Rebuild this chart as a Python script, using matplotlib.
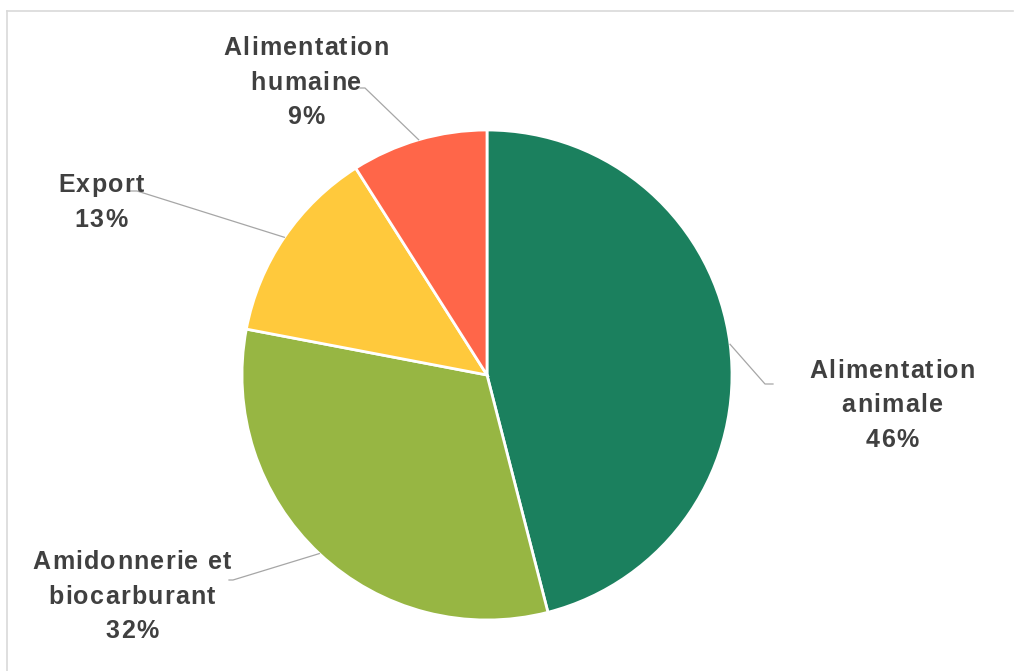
import numpy as np
import matplotlib
matplotlib.use("Agg")
import matplotlib.pyplot as plt
from matplotlib.lines import Line2D
from matplotlib.font_manager import FontProperties, findfont
from matplotlib.ft2font import FT2Font

# Débouchés (parts en %)
categories = ["Alimentation\nanimale", "Amidonnerie et\nbiocarburant", "Export", "Alimentation\nhumaine"]
shares = [46, 32, 13, 9]
colors = ["#1B805E", "#97B643", "#FFC93C", "#FF6649"]

W, H = 1014, 671
DPI = 100
FS = 18          # label font size (pt)
TRACK = 1.3      # extra spacing between letters (px)
LINE_H = 34.5    # distance between label lines (px)

fig = plt.figure(figsize=(W / DPI, H / DPI), dpi=DPI)
ax = fig.add_axes([0, 0, 1, 1])

cx, cy, r = 487, H - 375, 245
wedges, _ = ax.pie(shares, colors=colors, startangle=90, counterclock=False,
                   center=(cx, cy), radius=r, frame=True,
                   wedgeprops=dict(edgecolor="white", linewidth=2))
ax.set_xlim(0, W)
ax.set_ylim(0, H)
ax.set_aspect("equal")
ax.axis("off")

fprop = FontProperties(family="Liberation Sans", weight="bold", size=FS)
ftfont = FT2Font(findfont(fprop))
ftfont.set_size(FS, DPI)


def advance(ch):
    g = ftfont.load_char(ord(ch))
    return g.linearHoriAdvance / 65536.0


def tracked_line(x_center, y, s):
    widths = [advance(c) for c in s]
    total = sum(widths) + TRACK * (len(s) - 1)
    x = x_center - total / 2
    for c, w in zip(s, widths):
        if c != " ":
            ax.text(x, y, c, ha="left", va="center_baseline", fontproperties=fprop,
                    color="#404040")
        x += w + TRACK


def tracked_label(x_center, y_center, text):
    lines = text.split("\n")
    n = len(lines)
    for i, ln in enumerate(lines):
        y = y_center + (i - (n - 1) / 2) * LINE_H
        tracked_line(x_center, H - y, ln)


# label anchor, elbow and end of leader line (pixel coords, y from top)
label_pos = [(892, 403), (132, 594), (101, 200), (306, 80)]
elbows = [((765, 384), (773, 384)), ((233, 580), (229, 580)),
          ((137, 191), (127, 191)), ((365, 88), (360, 88))]

for w, cat, val, (lx, ly), (e1, e2) in zip(wedges, categories, shares, label_pos, elbows):
    mid = np.deg2rad((w.theta1 + w.theta2) / 2)
    px, py = cx + r * np.cos(mid), cy + r * np.sin(mid)
    ax.plot([px, e1[0], e2[0]], [py, H - e1[1], H - e2[1]],
            color="#A6A6A6", lw=0.9, zorder=1)
    tracked_label(lx, ly, f"{cat}\n{val}%")

# chart frame
fig.add_artist(Line2D([7 / W, 1013 / W], [1 - 11 / H, 1 - 11 / H],
                      color="#D9D9D9", lw=1.2))
fig.add_artist(Line2D([7 / W, 7 / W], [0, 1 - 11 / H],
                      color="#D9D9D9", lw=1.2))

fig.savefig("out.png", dpi=DPI, facecolor="white")
